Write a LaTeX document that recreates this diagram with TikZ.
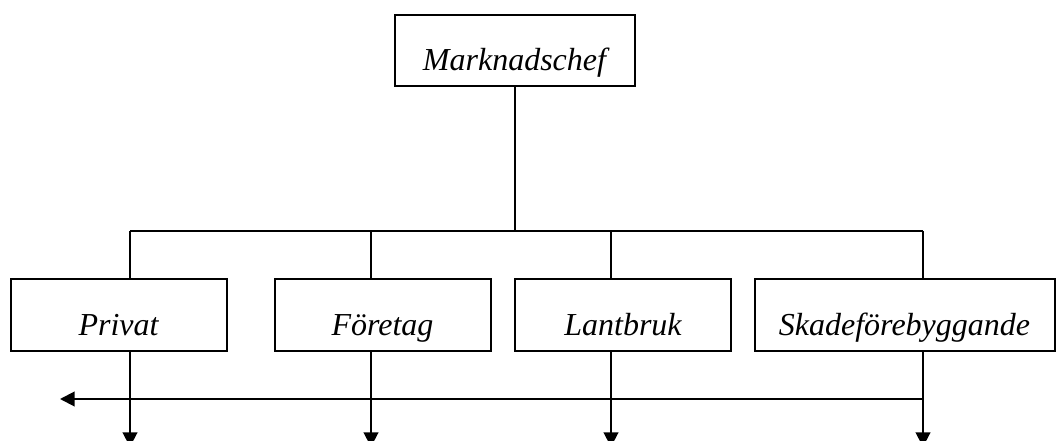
\documentclass[tikz,border=0pt]{standalone}
\usepackage{fontspec}
\setmainfont{Liberation Serif}
\usetikzlibrary{arrows.meta}
\begin{document}
\begin{tikzpicture}[x=0.75pt,y=-0.75pt,
  box/.style={draw,line width=1.5pt,rectangle,inner sep=0pt,minimum height=53.5pt,
    text height=30pt,text depth=0pt,
    font=\fontsize{24}{28}\selectfont\itshape},
  conn/.style={line width=1.5pt},
  arr/.style={line width=1.5pt,-{Triangle[length=11pt,width=11pt]}}]
\useasboundingbox (0,0) rectangle (1056,441);
\node[box,minimum width=180pt] (M) at (514.5,50.5) {Marknadschef};
\node[box,minimum width=162pt] (P) at (118.5,315) {Privat};
\node[box,minimum width=162pt] (F) at (382.5,315) {Företag};
\node[box,minimum width=161.5pt] (L) at (623,315) {Lantbruk};
\node[box,minimum width=225pt] (S) at (904.5,315) {Skadeförebyggande};
\coordinate (xP) at (130,231);
\coordinate (xF) at (371,231);
\coordinate (xL) at (611,231);
\coordinate (xS) at (923,231);
\coordinate (hy) at (0,399);
\coordinate (ay) at (0,447);
\coordinate (left) at (60,399);
\draw[conn] (M.south) -- (M.south |- xP);
\draw[conn] (xP) -- (xS);
\foreach \n/\b in {xP/P,xF/F,xL/L,xS/S}{
  \draw[conn] (\n) -- (\n |- \b.north);
  \draw[arr] (\n |- \b.south) -- (\n |- ay);
}
\draw[arr] (xS |- hy) -- (left);
\end{tikzpicture}
\end{document}
